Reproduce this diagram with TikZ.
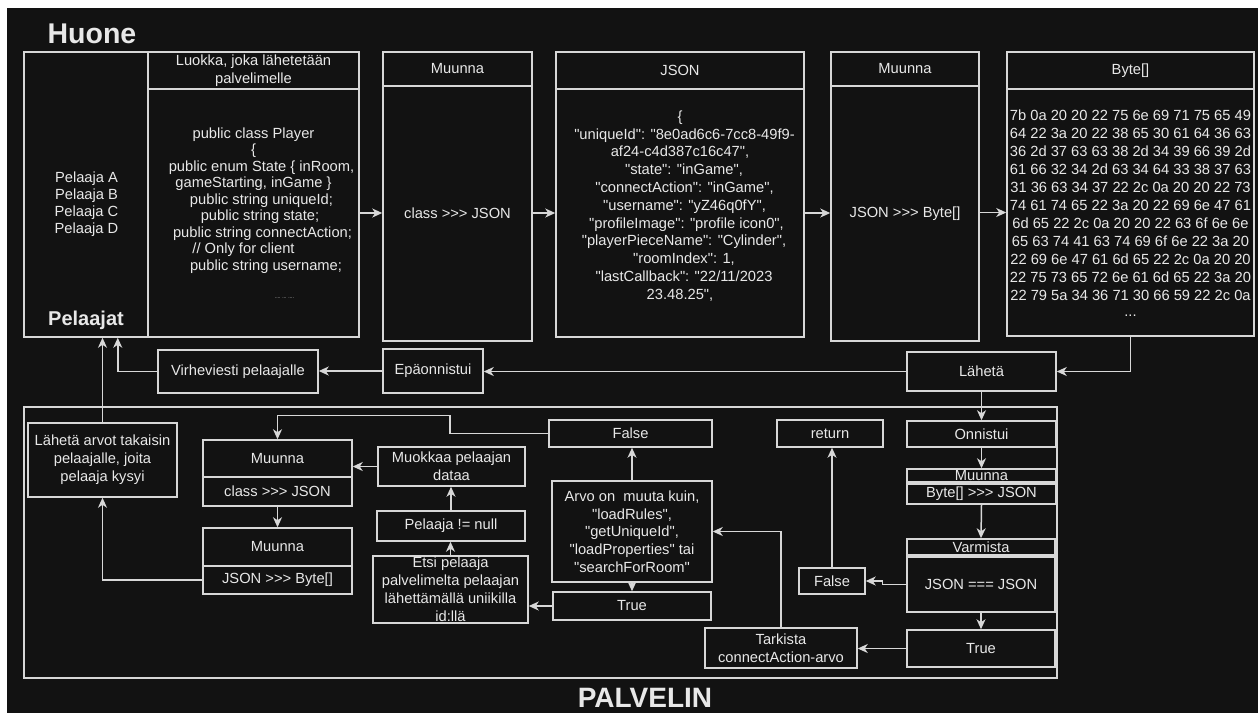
\documentclass[tikz,border=0pt]{standalone}
\usepackage{fontspec}
\setmainfont{Liberation Sans}[Ligatures=TeXOff]
\usetikzlibrary{arrows.meta}
\definecolor{bg}{RGB}{18,18,18}
\definecolor{ln}{RGB}{215,215,215}
\definecolor{tx}{RGB}{232,232,232}
\newcommand\fs[1]{\fontsize{14.7}{#1}\selectfont}
\tikzset{
  box/.style={draw=ln, line width=1.5pt, inner sep=0pt, text=tx, align=center, font=\fs{17.5}},
  txt/.style={inner sep=0pt, text=tx, align=center},
  arr/.style={draw=ln, line width=1.5pt, -{Stealth[length=10pt,width=9pt,inset=3pt]}},
  plain/.style={draw=ln, line width=1.5pt},
}
\begin{document}
\begin{tikzpicture}[x=1pt,y=-1pt]
\useasboundingbox (0,0) rectangle (1258,713);
\fill[white] (0,0) rectangle (1258,713);
\fill[bg] (7,8) rectangle (1258,713);

% titles
\node[txt,font=\fontsize{28.5}{32}\selectfont\bfseries] (huone) at (92,34) {Huone};
\node[txt,font=\fontsize{28}{32}\selectfont\bfseries] (palvelin) at (645,697.5) {PALVELIN};

% top row
\node[box,minimum width=124pt,minimum height=285pt] (pelaajat) at (86,194.5) {};
\node[txt,font=\fs{17}] (plist) at (86.5,204.5) {Pelaaja A\\Pelaaja B\\Pelaaja C\\Pelaaja D};
\node[txt,font=\fontsize{20}{24}\selectfont\bfseries] (ptitle) at (86,320.7) {Pelaajat};

\node[box,minimum width=211pt,minimum height=37pt,font=\fs{17.7}] (classhead) at (253.5,70.5) {Luokka, joka lähetetään\\palvelimelle};
\node[box,minimum width=211pt,minimum height=248pt] (classbody) at (253.5,213) {};
\node[txt,font=\fs{16.5}] (classtxt) at (253.5,212.7) {public class Player\\
\{\\
\hspace*{16pt}public enum State \{ inRoom,\\
gameStarting, inGame \}\\
\hspace*{16pt}public string uniqueId;\\
\hspace*{13pt}public string state;\\
\hspace*{18pt}public string connectAction;\\
\hspace*{-20pt}// Only for client\\
\hspace*{25pt}public string username;\\[11.5pt]
\hspace*{62pt}{\fontsize{5}{6}\selectfont .... ... ....}};

\node[box,minimum width=149pt,minimum height=34pt] (m1head) at (457.5,69) {Muunna};
\node[box,minimum width=149pt,minimum height=255pt] (m1body) at (457.5,213.5) {class >>> JSON};

\node[box,minimum width=248pt,minimum height=37pt] (jsonhead) at (680,70.5) {JSON};
\node[box,minimum width=248pt,minimum height=248pt] (jsonbody) at (680,213) {};
\node[txt,font=\fs{17.8}] (jsontxt) at (680,206) {\{\\
\hspace*{9pt}"uniqueId": "8e0ad6c6-7cc8-49f9-\\
af24-c4d387c16c47",\\
\hspace*{8pt}"state": "inGame",\\
\hspace*{9pt}"connectAction": "inGame",\\
\hspace*{9pt}"username": "yZ46q0fY",\\
\hspace*{13pt}"profileImage": "profile icon0",\\
\hspace*{8pt}"playerPieceName": "Cylinder",\\
\hspace*{8pt}"roomIndex": 1,\\
\hspace*{8pt}"lastCallback": "22/11/2023\\
23.48.25",};

\node[box,minimum width=148pt,minimum height=34pt] (m2head) at (905,69) {Muunna};
\node[box,minimum width=148pt,minimum height=255pt] (m2body) at (905,213.5) {JSON >>> Byte[]};

\node[box,minimum width=247pt,minimum height=37pt] (bytehead) at (1130.5,70.5) {Byte[]};
\node[box,minimum width=247pt,minimum height=247pt] (bytebody) at (1130.5,212.5) {};
\node[txt,font=\fs{18}] (bytetxt) at (1130.5,212.9) {7b 0a 20 20 22 75 6e 69 71 75 65 49\\
64 22 3a 20 22 38 65 30 61 64 36 63\\
36 2d 37 63 63 38 2d 34 39 66 39 2d\\
61 66 32 34 2d 63 34 64 33 38 37 63\\
31 36 63 34 37 22 2c 0a 20 20 22 73\\
74 61 74 65 22 3a 20 22 69 6e 47 61\\
6d 65 22 2c 0a 20 20 22 63 6f 6e 6e\\
65 63 74 41 63 74 69 6f 6e 22 3a 20\\
22 69 6e 47 61 6d 65 22 2c 0a 20 20\\
22 75 73 65 72 6e 61 6d 65 22 3a 20\\
22 79 5a 34 36 71 30 66 59 22 2c 0a\\[-2pt]
...};

% second row
\node[box,minimum width=149pt,minimum height=39pt] (lahe) at (981.5,371.5) {Lähetä};
\node[box,minimum width=100pt,minimum height=44pt] (epa) at (433,371) {Epäonnistui};
\node[box,minimum width=160pt,minimum height=43pt] (virhe) at (238,371.5) {Virheviesti pelaajalle};

% server area
\node[box,minimum width=1033pt,minimum height=271pt] (palv) at (540.5,542.5) {};

\node[box,minimum width=149pt,minimum height=74pt,font=\fs{18}] (lahearvot) at (102.5,460) {Lähetä arvot takaisin\\pelaajalle, joita\\pelaaja kysyi};

\node[box,minimum width=149pt,minimum height=37pt] (m3head) at (277.5,458.5) {Muunna};
\node[box,minimum width=149pt,minimum height=29pt] (m3body) at (277.5,491.5) {class >>> JSON};
\node[box,minimum width=149pt,minimum height=38pt] (m4head) at (277.5,547) {Muunna};
\node[box,minimum width=149pt,minimum height=28pt] (m4body) at (277.5,580) {JSON >>> Byte[]};

\node[box,minimum width=147pt,minimum height=39pt,font=\fs{18}] (muokkaa) at (451.5,466.5) {Muokkaa pelaajan\\dataa};
\node[box,minimum width=148pt,minimum height=30pt] (notnull) at (451,526) {Pelaaja != null};
\node[box,minimum width=155pt,minimum height=67pt,font=\fs{18}] (etsi) at (450.5,589.5) {Etsi pelaaja\\palvelimelta pelaajan\\lähettämällä uniikilla\\id:llä};

\node[box,minimum width=163pt,minimum height=27pt] (false1) at (630.5,433.5) {False};
\node[box,minimum width=160pt,minimum height=101pt,font=\fs{17.75}] (arvo) at (632,531.5) {Arvo on\ \ muuta kuin,\\"loadRules",\\"getUniqueId",\\"loadProperties" tai\\"searchForRoom"};
\node[box,minimum width=158pt,minimum height=28pt] (true1) at (632,606) {True};
\node[box,minimum width=152pt,minimum height=40pt,font=\fs{18.3}] (tarkista) at (781,648) {Tarkista\\connectAction-arvo};

\node[box,minimum width=106pt,minimum height=27pt] (ret) at (830,433.5) {return};
\node[box,minimum width=66pt,minimum height=26pt] (false2) at (832,581) {False};

\node[box,minimum width=149pt,minimum height=26pt] (onn) at (981.5,434) {Onnistui};
\node[box,minimum width=149pt,minimum height=13pt] (m5head) at (981.5,475.5) {Muunna};
\node[box,minimum width=149pt,minimum height=20pt] (m5body) at (981.5,494) {Byte[] >>> JSON};
\node[box,minimum width=148pt,minimum height=16pt] (varh) at (981,547) {Varmista};
\node[box,minimum width=148pt,minimum height=55pt] (varb) at (981,584.5) {JSON === JSON};
\node[box,minimum width=148pt,minimum height=37pt] (true2) at (981,648.5) {True};

% connectors top row
\draw[arr] (classbody.east) -- (classbody.east -| m1body.west);
\draw[arr] (m1body.east |- jsonbody.west) -- (jsonbody.west);
\draw[arr] (jsonbody.east) -- (jsonbody.east -| m2body.west);
\draw[arr] (m2body.east |- bytebody.west) -- (bytebody.west);
\draw[arr] (bytebody.south) |- (lahe.east);
\draw[arr] (lahe.west) -- (lahe.west -| epa.east);
\draw[arr] (epa.west) -- (epa.west -| virhe.east);
\draw[arr] (virhe.west) -| ([xshift=-31pt]pelaajat.south east);
\draw[arr] (lahearvot.north) -- (lahearvot.north |- pelaajat.south);

% connectors server
\draw[arr] (lahe.south) -- (onn.north);
\draw[arr] (onn.south) -- (m5head.north);
\draw[arr] (m5body.south) -- (varh.north);
\draw[arr] (varb.south) -- (true2.north);
\draw[arr] (true2.west) -- (true2.west -| tarkista.east);
\draw[arr] (tarkista.north) |- (arvo.east);
\draw[arr] (arvo.north) -- (arvo.north |- false1.south);
\draw[arr] (arvo.south) -- (arvo.south |- true1.north);
\draw[arr] (true1.west) -- (true1.west -| etsi.east);
\draw[arr] (etsi.north) -- (etsi.north |- notnull.south);
\draw[arr] (notnull.north) -- (notnull.north |- muokkaa.south);
\draw[arr] (muokkaa.west) -- (muokkaa.west -| m3head.east);
\coordinate (j1) at (450,415.5);
\draw[arr] (false1.west) -| (j1) -| (m3head.north);
\draw[arr] (m3body.south) -- (m4head.north);
\draw[arr] (m4body.west) -| (lahearvot.south);
\draw[arr] (varb.west) -- ++(-24,0) |- (false2.east);
\draw[arr] (false2.north) -- (false2.north |- ret.south);
\end{tikzpicture}
\end{document}
